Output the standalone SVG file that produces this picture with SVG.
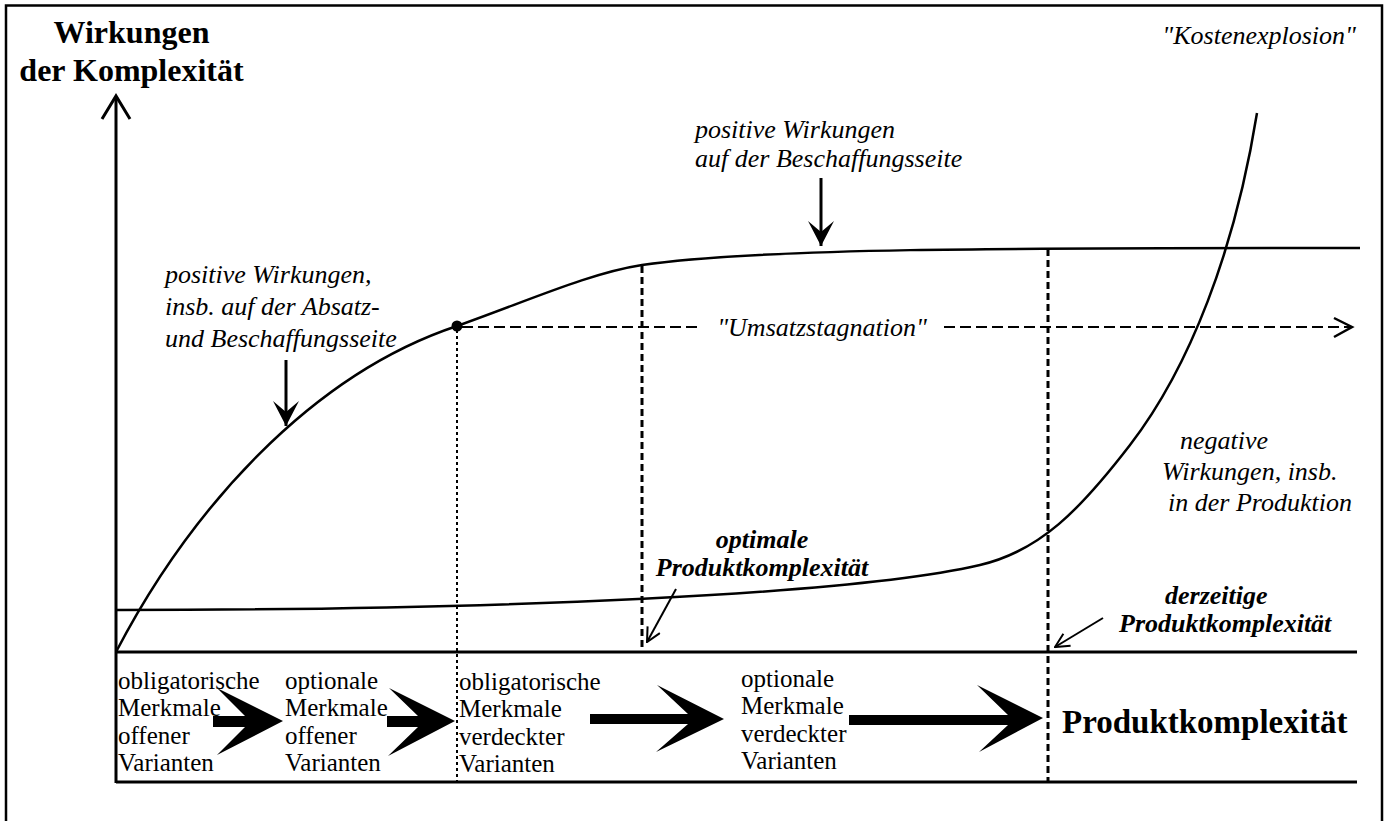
<svg xmlns="http://www.w3.org/2000/svg" width="1387" height="821" viewBox="0 0 1387 821">
<style>
  text { font-family: "Liberation Serif", "Times New Roman", serif; fill: #000; }
  .title { font-size: 32px; font-weight: bold; }
  .lab { font-size: 26px; font-style: italic; }
  .blab { font-size: 26px; font-style: italic; font-weight: bold; }
  .box { font-size: 25px; }
  .big { font-size: 33px; font-weight: bold; }
  .axis { stroke: #000; stroke-width: 3; fill: none; }
  .curve { stroke: #000; stroke-width: 2.5; fill: none; }
  .thin { stroke: #000; stroke-width: 2; fill: none; }
  .dotted { stroke: #000; stroke-width: 2; stroke-dasharray: 3 3; fill: none; }
  .dashed { stroke: #000; stroke-width: 3; stroke-dasharray: 7 4; fill: none; }
  .hdash { stroke: #000; stroke-width: 2; stroke-dasharray: 11 5; fill: none; }
  .block { fill: #000; stroke: none; }
</style>
<defs>
  <marker id="openV" viewBox="0 0 16 16" refX="15" refY="8" markerWidth="16" markerHeight="16" markerUnits="userSpaceOnUse" orient="auto">
    <path d="M1,1 L15,8 L1,15" fill="none" stroke="#000" stroke-width="2"/>
  </marker>
  <marker id="solidHead" viewBox="0 0 26 26" refX="25" refY="13" markerWidth="26" markerHeight="26" markerUnits="userSpaceOnUse" orient="auto">
    <path d="M0,0 L25,13 L0,26 L11,13 Z" fill="#000"/>
  </marker>
</defs>
<rect x="0" y="0" width="1387" height="821" fill="#fff"/>
<rect x="6" y="5.5" width="1376" height="840" fill="none" stroke="#000" stroke-width="2.5"/>

<g id="axes">
  <path class="axis" d="M116,97 L116,783"/>
  <path class="axis" d="M102,119 L116,96 L130,119"/>
  <path class="axis" d="M116,652 L1357,652"/>
  <path class="axis" d="M116,782 L1357,782"/>
</g>

<g id="y-label">
  <text class="title" x="131.5" y="43" text-anchor="middle">Wirkungen</text>
  <text class="title" x="131.5" y="81" text-anchor="middle">der Komplexität</text>
</g>

<g id="positive-curve">
  <path class="curve" d="M116,652 C190,510 310,375 457,326 C530,300 590,273 642,265 C760,248 1000,248 1360,248"/>
  <circle cx="457" cy="326" r="5.5" fill="#000"/>
</g>

<g id="cost-curve">
  <path class="curve" d="M116,610 C500,610 850,595 980,565 C1040,551 1080,510 1130,445 C1190,367 1235,250 1257,113"/>
</g>

<g id="connectors">
  <path class="dotted" d="M457,330 L457,782"/>
  <path class="dashed" d="M642,266 L642,652"/>
  <path class="dashed" d="M1048,249 L1048,782"/>
  <path class="hdash" d="M462,327 L700,327"/>
  <path class="hdash" d="M944,327 L1350,327"/>
  <path d="M1334,318 L1352,327 L1334,337" fill="none" stroke="#000" stroke-width="2.5"/>
  <path class="axis" d="M286,360 L286,426" marker-end="url(#solidHead)"/>
  <path class="axis" d="M821,178 L821,246" marker-end="url(#solidHead)"/>
  <path class="thin" d="M676,589 L647,642" marker-end="url(#openV)"/>
  <path class="thin" d="M1103,618 L1055,647" marker-end="url(#openV)"/>
</g>

<g id="label-absatz">
  <text class="lab" x="165" y="283">positive Wirkungen,</text>
  <text class="lab" x="165" y="315">insb. auf der Absatz-</text>
  <text class="lab" x="165" y="347">und Beschaffungsseite</text>
</g>

<g id="label-beschaffung">
  <text class="lab" x="695" y="138">positive Wirkungen</text>
  <text class="lab" x="695" y="167">auf der Beschaffungsseite</text>
</g>

<g id="label-kosten">
  <text class="lab" x="1356" y="44" text-anchor="end">"Kostenexplosion"</text>
</g>

<g id="label-umsatz">
  <text class="lab" x="822" y="336" text-anchor="middle">"Umsatzstagnation"</text>
</g>

<g id="label-negativ">
  <text class="lab" x="1180" y="449">negative</text>
  <text class="lab" x="1162" y="480">Wirkungen, insb.</text>
  <text class="lab" x="1168" y="511">in der Produktion</text>
</g>

<g id="label-optimal">
  <text class="blab" x="762" y="548" text-anchor="middle">optimale</text>
  <text class="blab" x="762" y="576" text-anchor="middle">Produktkomplexität</text>
</g>

<g id="label-derzeitig">
  <text class="blab" x="1165" y="604">derzeitige</text>
  <text class="blab" x="1119" y="632">Produktkomplexität</text>
</g>

<g id="stage-1">
  <text class="box" x="118" y="689">obligatorische</text>
  <text class="box" x="118" y="716">Merkmale</text>
  <text class="box" x="118" y="744">offener</text>
  <text class="box" x="118" y="771">Varianten</text>
</g>
<g id="stage-2">
  <text class="box" x="285" y="689">optionale</text>
  <text class="box" x="285" y="716">Merkmale</text>
  <text class="box" x="285" y="744">offener</text>
  <text class="box" x="285" y="771">Varianten</text>
</g>
<g id="stage-3">
  <text class="box" x="459" y="690">obligatorische</text>
  <text class="box" x="459" y="717">Merkmale</text>
  <text class="box" x="459" y="745">verdeckter</text>
  <text class="box" x="459" y="772">Varianten</text>
</g>
<g id="stage-4">
  <text class="box" x="741" y="687">optionale</text>
  <text class="box" x="741" y="714">Merkmale</text>
  <text class="box" x="741" y="742">verdeckter</text>
  <text class="box" x="741" y="769">Varianten</text>
</g>
<g id="stage-result">
  <text class="big" x="1062" y="733">Produktkomplexität</text>
</g>

<g id="stage-arrows">
  <path class="block" d="M213,716 L245,716 L217,688 L283,721 L217,755 L245,727 L213,727 Z"/>
  <path class="block" d="M387,716 L418,716 L389,688 L455,721 L388,756 L418,727 L387,727 Z"/>
  <path class="block" d="M590,714 L688,714 L657,685 L724,719 L656,752 L688,724 L590,724 Z"/>
  <path class="block" d="M849,715 L1008,715 L977,685 L1043,718 L979,752 L1008,725 L849,725 Z"/>
</g>
</svg>
